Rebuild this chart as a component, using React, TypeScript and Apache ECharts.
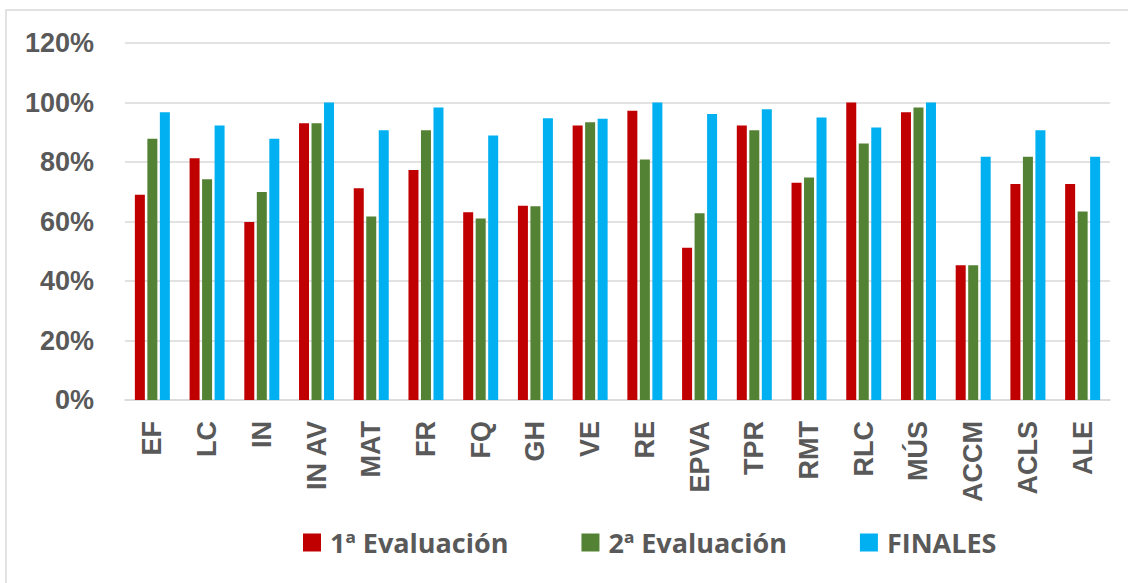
import React, { useEffect, useRef } from "react";
import * as echarts from "echarts";

const categories = ["EF", "LC", "IN", "IN AV", "MAT", "FR", "FQ", "GH", "VE", "RE", "EPVA", "TPR", "RMT", "RLC", "MÚS", "ACCM", "ACLS", "ALE"];
const eval1 = [69, 81.3, 59.8, 93, 71.2, 77.3, 63.1, 65.3, 92.3, 97.2, 51.2, 92.3, 73, 100, 96.7, 45.3, 72.6, 72.6];
const eval2 = [87.8, 74.2, 69.9, 93, 61.7, 90.7, 61, 65.1, 93.4, 80.8, 62.8, 90.7, 74.8, 86.2, 98.3, 45.3, 81.8, 63.4];
const finales = [96.7, 92.3, 87.8, 100, 90.7, 98.3, 88.9, 94.7, 94.5, 100, 96.1, 97.7, 95, 91.6, 100, 81.8, 90.7, 81.8];
const seriesNames = ["1ª Evaluación", "2ª Evaluación", "FINALES"];
const colors = ["#C00000", "#548235", "#00B0F0"];

export default function App() {
  const ref = useRef<HTMLDivElement>(null);
  useEffect(() => {
    if (!ref.current) return;
    const chart = echarts.init(ref.current, null, { renderer: "svg" });
    const data = [eval1, eval2, finales];
    chart.setOption({
      animation: false,
      backgroundColor: "#ffffff",
      graphic: [
        {
          type: "rect",
          shape: { x: 6, y: 10, width: 1140, height: 600 },
          style: { fill: "none", stroke: "#d9d9d9", lineWidth: 1.5 },
          silent: true,
        },
      ],
      grid: { left: 125, right: 18, top: 43, bottom: 183, containLabel: false },
      legend: {
        left: 298,
        top: 524,
        itemWidth: 18,
        itemHeight: 18,
        itemGap: 73,
        icon: "rect",
        data: seriesNames,
        textStyle: {
          fontFamily: "Open Sans",
          fontWeight: "bold",
          fontSize: 27,
          color: "#595959",
          padding: [0, 0, 0, 4],
        },
      },
      xAxis: {
        type: "category",
        data: categories,
        axisLine: { show: true, lineStyle: { color: "#d9d9d9", width: 1.5 } },
        axisTick: { show: false },
        axisLabel: {
          rotate: 90,
          interval: 0,
          margin: 21,
          fontFamily: "Liberation Sans",
          fontWeight: "bold",
          fontSize: 27,
          color: "#595959",
        },
      },
      yAxis: {
        type: "value",
        min: 0,
        max: 120,
        interval: 20,
        axisLine: { show: false },
        axisTick: { show: false },
        splitLine: { lineStyle: { color: "#d9d9d9", width: 1.5 } },
        axisLabel: {
          formatter: "{value}%",
          margin: 31,
          fontFamily: "Liberation Sans",
          fontWeight: "bold",
          fontSize: 27,
          color: "#595959",
        },
      },
      series: seriesNames.map((name, i) => ({
        name,
        type: "bar",
        data: data[i],
        barWidth: 10,
        barGap: "25%",
        itemStyle: { color: colors[i] },
      })),
    });
    return () => chart.dispose();
  }, []);
  return (
    <div
      ref={ref}
      style={{ position: "fixed", left: 0, top: 0, width: 1128, height: 583 }}
    />
  );
}
